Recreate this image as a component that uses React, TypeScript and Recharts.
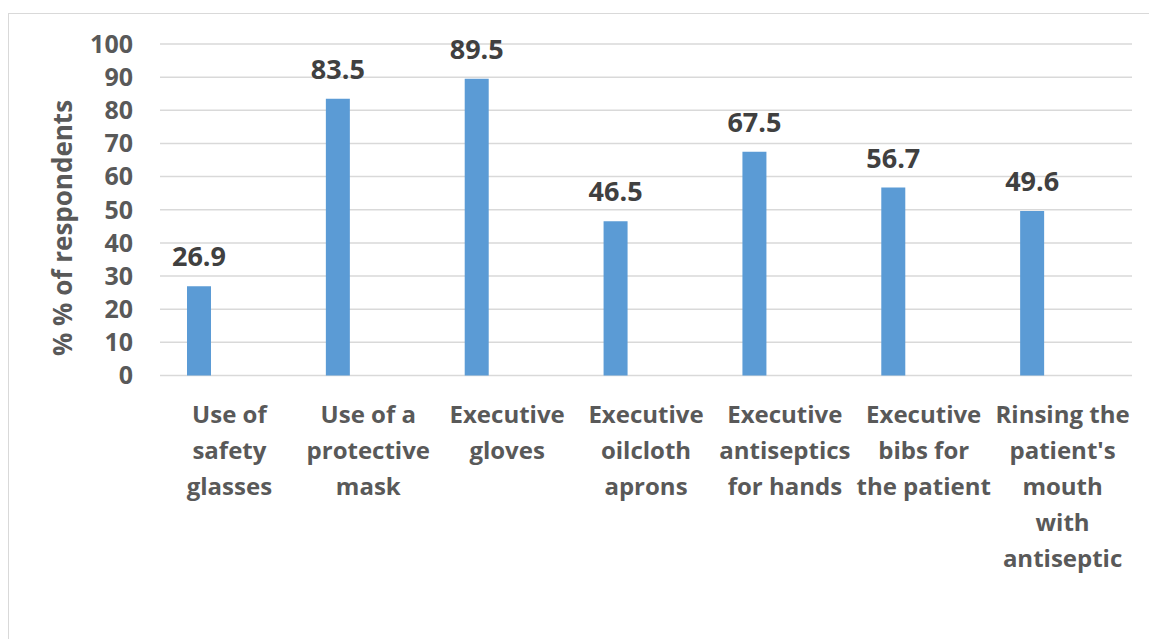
import { Bar, BarChart, CartesianGrid, LabelList, XAxis, YAxis } from "recharts";

const categories = [
  "Use of safety glasses",
  "Use of a protective mask",
  "Executive gloves",
  "Executive oilcloth aprons",
  "Executive antiseptics for hands",
  "Executive bibs for the patient",
  "Rinsing the patient's mouth with antiseptic",
];

// how each category name wraps under the axis
const categoryLines = [
  ["Use of", "safety", "glasses"],
  ["Use of a", "protective", "mask"],
  ["Executive", "gloves"],
  ["Executive", "oilcloth", "aprons"],
  ["Executive", "antiseptics", "for hands"],
  ["Executive", "bibs for", "the patient"],
  ["Rinsing the", "patient's", "mouth", "with", "antiseptic"],
];

const percentValues = [26.9, 83.5, 89.5, 46.5, 67.5, 56.7, 49.6];

// the source chart keeps an empty second series, which pushes bars left
const blankSeries: (number | null)[] = [null, null, null, null, null, null, null];

const yTicks = [0, 10, 20, 30, 40, 50, 60, 70, 80, 90, 100];

const yAxisTitle = "% % of respondents";

const FONT = "'Open Sans', Lato, sans-serif";
const WIDTH = 1140;
const HEIGHT = 625;

const chartData = categories.map((name, i) => ({
  name,
  value: percentValues[i],
  blank: blankSeries[i],
}));

const CategoryTick = (props: any) => {
  const { x, y, payload } = props;
  const lines = categoryLines[payload.index] || [payload.value];
  return (
    <text
      x={x}
      y={y + 47.5}
      textAnchor="middle"
      fill="#595959"
      fontFamily={FONT}
      fontWeight="bold"
      fontSize={24}
    >
      {lines.map((line: string, i: number) => (
        <tspan key={i} x={x} dy={i === 0 ? 0 : 36}>
          {line}
        </tspan>
      ))}
    </text>
  );
};

const ValueLabel = (props: any) => {
  const { x, y, width, value } = props;
  if (value == null) return null;
  return (
    <text
      x={x + width / 2}
      y={y - 20}
      textAnchor="middle"
      fill="#404040"
      fontFamily={FONT}
      fontWeight="bold"
      fontSize={27}
    >
      {Number(value).toFixed(1)}
    </text>
  );
};

export default function App() {
  return (
    <div
      style={{
        position: "absolute",
        left: 8,
        top: 13,
        width: 1141,
        height: 626,
        boxSizing: "border-box",
        borderLeft: "1px solid #d9d9d9",
        borderTop: "1px solid #d9d9d9",
        background: "#fff",
      }}
    >
      <BarChart
        width={WIDTH}
        height={HEIGHT}
        data={chartData}
        margin={{ top: 30, right: 17, bottom: 0, left: 0 }}
        barSize={24}
        barGap={37}
      >
        <CartesianGrid
          vertical={false}
          stroke="#d9d9d9"
          strokeWidth={1.5}
        />
        <XAxis
          dataKey="name"
          axisLine={false}
          tickLine={false}
          tickSize={0}
          tickMargin={0}
          height={263.5}
          interval={0}
          tick={<CategoryTick />}
        />
        <YAxis
          domain={[0, 100]}
          ticks={yTicks}
          width={151}
          axisLine={false}
          tickLine={false}
          tickSize={0}
          tickMargin={27}
          tick={{
            fill: "#595959",
            fontSize: 25,
            fontWeight: "bold",
            fontFamily: FONT,
          }}
          label={{
            content: () => (
              <text
                x={53}
                y={214}
                transform="rotate(-90, 53, 214)"
                textAnchor="middle"
                dominantBaseline="central"
                fill="#595959"
                fontFamily={FONT}
                fontWeight="bold"
                fontSize={26}
              >
                {yAxisTitle}
              </text>
            ),
          }}
        />
        <Bar dataKey="value" fill="#5b9bd5" isAnimationActive={false}>
          <LabelList dataKey="value" content={<ValueLabel />} />
        </Bar>
        <Bar dataKey="blank" fill="#ed7d31" isAnimationActive={false} />
      </BarChart>
    </div>
  );
}
